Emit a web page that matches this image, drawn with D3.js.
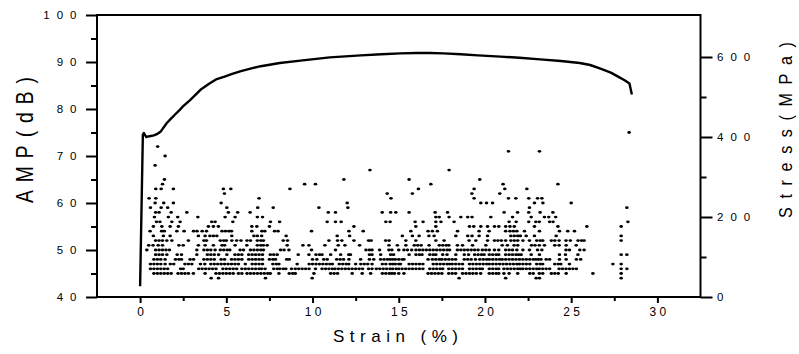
<!DOCTYPE html>
<html>
<head>
<meta charset="utf-8">
<script src="https://cdn.jsdelivr.net/npm/d3@7"></script>
<style>
  html, body { margin: 0; padding: 0; background: #fff; }
  svg { display: block; }
  text { font-family: "Liberation Sans", Arial, sans-serif; fill: #000; }
</style>
</head>
<body>
<svg id="chart" width="799" height="354"></svg>
<script>
// Axis ticks
const strainTicks = [0, 5, 10, 15, 20, 25, 30];
const strainMinor = [2.5, 7.5, 12.5, 17.5, 22.5, 27.5];
const ampTicks = [40, 50, 60, 70, 80, 90, 100];
const ampMinor = [45, 55, 65, 75, 85, 95];
const stressTicks = [0, 200, 400, 600];
const stressMinor = [100, 300, 500];

// Stress-strain curve (strain %, stress MPa)
const curveStrain = [0.0, 0.16, 0.22, 0.35, 0.55, 0.8, 0.97, 1.2, 1.55, 1.75, 2.0, 2.3, 2.5, 2.9, 3.5, 4.0, 4.4, 4.9, 5.3, 5.8, 6.4, 7.0, 8.1, 9.3, 11.0, 12.8, 14.0, 15.1, 16.0, 16.8, 17.6, 18.6, 19.6, 20.9, 22.0, 23.2, 24.4, 25.5, 26.1, 26.7, 27.3, 27.8, 28.1, 28.38, 28.45, 28.52];
const curveStress = [27, 406, 410, 400, 402, 404, 407, 414, 435, 444, 455, 468, 477, 492, 518, 533, 544, 551, 557, 564, 571, 577, 585, 591, 599, 604, 607, 609, 610, 610, 609, 607, 604, 601, 598, 594, 590, 585, 580, 571, 561, 549, 542, 534, 520, 506];

// Acoustic emission hits: strain (%) of each hit, grouped by amplitude (dB)
const hits44 = [4.12, 4.55, 7.27, 9.98, 18.5, 21.2, 22.97, 23.16, 27.9];
const hits45 = [0.8, 1.0, 1.2, 1.4, 1.6, 1.8, 2.2, 2.4, 2.6, 2.8, 3.09, 3.77, 4.4, 4.6, 4.8, 5.0, 5.2, 5.4, 5.7, 5.9, 6.2, 6.4, 6.6, 6.8, 7.0, 7.2, 7.4, 7.55, 8.05, 8.65, 8.85, 9.0, 10.08, 11.05, 11.25, 11.45, 12.3, 12.88, 13.37, 14.05, 14.25, 14.45, 14.6, 14.75, 15.0, 15.3, 16.7, 16.9, 17.1, 17.3, 17.5, 17.9, 18.1, 18.3, 18.7, 18.9, 19.1, 19.3, 19.5, 19.75, 20.25, 20.45, 20.65, 20.8, 21.1, 21.4, 21.9, 22.6, 22.8, 23.15, 23.35, 23.85, 24.05, 24.25, 24.71, 26.26, 27.9];
const hits46 = [0.6, 0.8, 1.0, 1.2, 1.4, 1.6, 2.35, 2.5, 3.4, 3.6, 3.8, 4.0, 4.2, 4.4, 4.8, 5.0, 5.2, 5.4, 5.6, 5.9, 6.1, 6.3, 6.5, 6.7, 6.9, 7.05, 7.25, 7.75, 7.95, 8.1, 8.3, 8.45, 8.78, 9.0, 9.2, 9.4, 9.6, 9.8, 10.17, 10.55, 10.75, 10.95, 11.15, 11.3, 11.5, 11.7, 11.9, 12.1, 12.3, 12.5, 12.7, 12.9, 13.25, 13.45, 13.7, 13.9, 14.1, 14.3, 14.5, 14.65, 14.85, 15.0, 15.2, 15.4, 15.6, 15.8, 16.0, 16.2, 16.4, 16.8, 17.0, 17.2, 17.4, 17.55, 17.9, 18.1, 18.3, 18.5, 18.7, 19.1, 19.3, 19.5, 19.7, 19.85, 20.25, 20.45, 20.65, 20.8, 21.1, 21.3, 21.5, 21.7, 21.9, 22.05, 22.2, 22.4, 22.6, 22.8, 23.0, 23.15, 23.35, 23.55, 23.75, 24.3, 24.5, 24.7, 24.9, 25.1, 25.3, 27.9, 28.23];
const hits47 = [0.6, 0.8, 1.0, 1.2, 1.45, 1.75, 1.95, 2.6, 2.8, 3.0, 3.5, 3.75, 4.1, 4.3, 4.5, 4.7, 4.9, 5.1, 5.3, 5.5, 5.7, 6.1, 6.5, 6.7, 6.9, 7.1, 7.7, 7.9, 8.05, 9.11, 9.8, 10.0, 10.2, 10.4, 10.6, 10.8, 11.0, 11.15, 11.55, 11.75, 11.95, 12.1, 12.5, 12.8, 13.0, 13.2, 13.45, 14.05, 14.25, 14.5, 14.65, 14.8, 15.0, 15.1, 15.6, 15.8, 16.0, 16.2, 16.4, 17.0, 17.2, 17.4, 17.6, 17.8, 17.95, 18.1, 18.3, 18.5, 18.7, 19.1, 19.3, 19.5, 19.7, 19.9, 20.1, 20.25, 20.45, 20.65, 20.85, 21.05, 21.25, 21.45, 21.65, 21.85, 22.0, 22.2, 22.4, 22.6, 23.0, 23.2, 23.35, 24.05, 24.25, 24.4, 24.9, 27.42, 27.9];
const hits48 = [0.8, 1.0, 1.2, 1.45, 2.05, 2.25, 2.4, 2.9, 3.1, 3.7, 3.9, 4.1, 4.3, 4.7, 4.9, 5.3, 5.5, 5.7, 5.9, 6.3, 6.5, 6.7, 6.9, 7.1, 7.5, 7.7, 7.85, 8.5, 8.65, 10.0, 10.25, 10.65, 10.85, 11.4, 11.6, 11.8, 12.11, 12.79, 13.3, 13.55, 13.95, 14.15, 14.35, 14.5, 14.65, 14.8, 15.0, 15.2, 15.3, 16.7, 16.95, 17.15, 17.35, 17.5, 17.7, 17.9, 18.1, 18.3, 18.8, 19.0, 19.2, 19.45, 19.7, 19.9, 20.1, 20.25, 20.45, 20.65, 20.85, 21.0, 21.2, 21.4, 21.6, 21.8, 22.0, 22.2, 22.4, 22.6, 22.8, 22.95, 23.1, 23.25, 23.55, 23.75, 24.32, 24.71, 25.3, 25.55];
const hits49 = [0.9, 1.1, 1.3, 1.55, 2.15, 2.4, 3.29, 3.9, 4.1, 4.3, 4.55, 5.03, 5.5, 5.7, 5.9, 6.3, 6.5, 6.7, 6.9, 7.1, 7.55, 7.75, 7.95, 9.17, 9.79, 10.2, 10.4, 10.55, 11.05, 11.63, 12.1, 12.2, 13.3, 13.45, 13.95, 14.53, 14.7, 15.6, 16.0, 16.2, 16.35, 16.8, 17.0, 17.15, 17.55, 17.8, 18.31, 18.8, 19.05, 19.4, 19.6, 19.8, 19.95, 20.25, 20.45, 20.65, 20.8, 21.2, 21.4, 21.6, 21.8, 21.95, 22.1, 22.68, 23.16, 24.32, 24.67, 25.39, 27.9, 28.23];
const hits50 = [0.39, 0.9, 1.1, 1.3, 1.5, 1.7, 3.29, 3.7, 3.9, 4.1, 4.35, 4.65, 4.85, 5.05, 5.2, 5.8, 6.0, 6.4, 6.6, 6.8, 7.0, 7.15, 8.15, 8.35, 8.63, 9.94, 11.33, 13.1, 13.3, 13.45, 13.89, 14.43, 14.6, 15.0, 15.3, 15.5, 15.75, 16.0, 16.2, 16.4, 16.6, 16.8, 17.0, 17.2, 17.4, 17.6, 17.8, 17.95, 18.4, 18.6, 18.8, 19.0, 19.2, 19.4, 19.6, 19.85, 20.05, 20.25, 20.55, 20.8, 21.2, 21.4, 21.6, 21.85, 22.2, 22.58, 23.05, 23.3, 24.7, 24.9, 25.5, 25.75];
const hits51 = [0.5, 0.75, 1.05, 1.3, 2.25, 2.5, 3.38, 3.77, 4.25, 4.75, 4.9, 5.51, 6.19, 6.8, 7.0, 7.15, 7.37, 8.53, 9.44, 9.79, 10.72, 11.49, 11.88, 12.73, 14.43, 14.92, 15.41, 15.9, 16.1, 16.3, 16.76, 17.35, 17.55, 17.75, 17.9, 18.4, 18.7, 19.28, 20.05, 21.0, 21.3, 21.69, 21.9, 22.7, 22.9, 23.15, 23.45, 24.05, 24.3, 24.71, 25.29];
const hits52 = [0.9, 1.1, 1.3, 1.55, 1.84, 2.8, 3.7, 3.85, 4.65, 4.85, 5.0, 5.32, 5.6, 5.85, 6.2, 6.4, 6.8, 7.0, 7.15, 8.3, 8.55, 10.95, 11.45, 11.7, 12.4, 13.25, 13.4, 14.24, 14.44, 15.41, 15.99, 17.15, 17.63, 19.08, 19.47, 20.15, 20.55, 20.75, 20.95, 21.2, 21.5, 21.7, 21.9, 22.2, 22.58, 23.0, 23.2, 23.35, 23.85, 24.05, 24.3, 24.7, 24.95, 25.4, 25.6, 25.75, 27.9];
const hits53 = [0.77, 1.35, 1.74, 3.38, 3.77, 4.05, 4.25, 4.45, 5.32, 6.6, 6.8, 7.05, 8.47, 11.43, 12.15, 15.21, 15.79, 16.18, 16.75, 17.05, 18.31, 19.0, 19.25, 19.66, 20.15, 21.5, 21.7, 21.9, 22.05, 22.39, 22.87, 24.13, 27.9];
const hits54 = [0.58, 1.25, 1.4, 2.13, 2.55, 3.1, 3.3, 3.6, 3.85, 4.75, 4.95, 5.15, 5.3, 6.48, 7.06, 7.23, 7.8, 8.0, 9.94, 12.11, 12.94, 15.7, 16.7, 16.95, 17.24, 18.41, 19.66, 20.24, 21.2, 21.45, 21.65, 21.85, 22.29, 23.16, 24.32, 24.8, 25.19];
const hits55 = [0.77, 1.26, 1.74, 2.22, 3.96, 4.25, 4.54, 6.48, 6.77, 7.5, 12.4, 15.99, 17.15, 19.1, 19.35, 19.76, 20.15, 20.55, 20.8, 21.2, 21.45, 21.7, 22.87, 24.23, 25.91, 27.9];
const hits56 = [0.95, 1.15, 1.84, 2.32, 4.15, 4.35, 5.38, 7.56, 8.09, 10.85, 11.33, 11.66, 14.25, 14.5, 15.95, 16.41, 17.15, 17.45, 18.21, 21.4, 21.81, 22.54, 22.95, 23.15, 23.75, 23.95, 28.29];
const hits57 = [0.83, 1.64, 2.18, 3.35, 4.93, 5.51, 6.8, 7.1, 17.15, 17.35, 17.92, 18.6, 19.0, 19.25, 20.34, 21.6, 22.68, 23.45, 23.7, 24.1];
const hits58 = [0.9, 1.1, 1.8, 2.71, 5.12, 5.66, 6.38, 10.91, 11.33, 14.04, 14.53, 14.83, 15.6, 17.11, 17.83, 21.11, 21.89, 22.54, 23.2, 23.94];
const hits59 = [0.6, 1.22, 1.6, 5.03, 6.82, 7.72, 10.37, 12.05, 22.58, 28.23];
const hits60 = [0.87, 1.37, 1.93, 4.7, 12.01, 19.76, 20.09, 20.44, 22.87, 23.36, 25.0];
const hits61 = [0.52, 0.91, 6.9, 14.55, 19.37, 21.36, 21.79, 22.54, 23.05, 23.3];
const hits62 = [4.89, 14.33, 15.79, 19.24, 20.86];
const hits63 = [0.91, 1.22, 1.93, 4.83, 5.26, 8.69, 16.14, 19.37, 21.15, 22.43];
const hits64 = [1.3, 9.54, 10.17, 16.86, 21.05, 24.23];
const hits65 = [1.41, 11.82, 15.6, 19.7];
const hits67 = [13.33, 17.92];
const hits68 = [0.87];
const hits70 = [1.45];
const hits71 = [21.36, 23.16];
const hits72 = [1.02];
const hits75 = [28.36];

const hitRows = [
  [44, hits44], [45, hits45], [46, hits46], [47, hits47], [48, hits48], [49, hits49],
  [50, hits50], [51, hits51], [52, hits52], [53, hits53], [54, hits54], [55, hits55],
  [56, hits56], [57, hits57], [58, hits58], [59, hits59], [60, hits60], [61, hits61],
  [62, hits62], [63, hits63], [64, hits64], [65, hits65], [67, hits67], [68, hits68],
  [70, hits70], [71, hits71], [72, hits72], [75, hits75]
];
const hitPoints = hitRows.flatMap(([amp, list]) => list.map(s => ({ strain: s, amp })));
const curve = curveStrain.map((s, i) => ({ strain: s, stress: curveStress[i] }));

// Layout of the plot frame
const frameL = 97, frameR = 700.5, frameT = 15, frameB = 297;
const svg = d3.select("#chart");

const x = d3.scaleLinear().domain([-2.5, 32.5]).range([frameL, frameR]);
const yAmp = d3.scaleLinear().domain([40, 100]).range([frameB, frameT]);
const yStress = d3.scaleLinear().domain([0, 705]).range([frameB, frameT]);

function styleTicks(g) {
  g.select(".domain").remove();
  g.selectAll(".tick line").attr("stroke", "#000").attr("stroke-width", 2);
}

// Bottom axis
svg.append("g").attr("transform", `translate(0,${frameB})`)
  .call(d3.axisBottom(x).tickValues(strainMinor).tickSize(4).tickFormat(""))
  .call(styleTicks);
const xAx = svg.append("g").attr("transform", `translate(0,${frameB})`)
  .call(d3.axisBottom(x).tickValues(strainTicks).tickSize(6).tickPadding(4).tickFormat(d3.format("d")))
  .call(styleTicks);
xAx.attr("font-family", null).attr("font-size", null);
xAx.selectAll(".tick text")
  .attr("font-size", 12).attr("letter-spacing", 3.3).attr("dx", 1.65);

// Left axis
svg.append("g").attr("transform", `translate(${frameL},0)`)
  .call(d3.axisLeft(yAmp).tickValues(ampMinor).tickSize(6).tickFormat(""))
  .call(styleTicks);
const yAx = svg.append("g").attr("transform", `translate(${frameL},0)`)
  .call(d3.axisLeft(yAmp).tickValues(ampTicks).tickSize(11).tickPadding(2.5).tickFormat(d3.format("d")))
  .call(styleTicks);
yAx.attr("font-family", null).attr("font-size", null);
yAx.selectAll(".tick text")
  .attr("font-size", 11.5).attr("letter-spacing", 7);

// Right axis
svg.append("g").attr("transform", `translate(${frameR},0)`)
  .call(d3.axisRight(yStress).tickValues(stressMinor).tickSize(6).tickFormat(""))
  .call(styleTicks);
const sAx = svg.append("g").attr("transform", `translate(${frameR},0)`)
  .call(d3.axisRight(yStress).tickValues(stressTicks).tickSize(12).tickPadding(4.5).tickFormat(d3.format("d")))
  .call(styleTicks);
sAx.attr("font-family", null).attr("font-size", null);
sAx.selectAll(".tick text")
  .attr("font-size", 11.5).attr("letter-spacing", 7);

// Plot frame
svg.append("rect")
  .attr("x", frameL).attr("y", frameT)
  .attr("width", frameR - frameL).attr("height", frameB - frameT)
  .attr("fill", "none").attr("stroke", "#000").attr("stroke-width", 2);

// AE hits
svg.append("g").selectAll("ellipse").data(hitPoints).join("ellipse")
  .attr("cx", d => x(d.strain))
  .attr("cy", d => yAmp(d.amp))
  .attr("rx", 1.8).attr("ry", 1.4)
  .attr("fill", "#000");

// Stress-strain curve
svg.append("path")
  .datum(curve)
  .attr("fill", "none").attr("stroke", "#000").attr("stroke-width", 2.4)
  .attr("stroke-linejoin", "round")
  .attr("d", d3.line().x(d => x(d.strain)).y(d => yStress(d.stress)));

// Axis titles
svg.append("text")
  .attr("x", 395.5).attr("y", 342)
  .attr("text-anchor", "middle")
  .attr("font-size", 17)
  .attr("textLength", 125).attr("lengthAdjust", "spacing")
  .text("Strain (%)");

svg.append("text")
  .attr("transform", "translate(33,140) rotate(-90) scale(0.8,1)")
  .attr("text-anchor", "middle")
  .attr("font-size", 24)
  .attr("textLength", 126 / 0.8).attr("lengthAdjust", "spacing")
  .text("AMP(dB)");

svg.append("text")
  .attr("transform", "translate(792,130) rotate(-90) scale(0.85,1)")
  .attr("text-anchor", "middle")
  .attr("font-size", 19)
  .attr("textLength", 176 / 0.85).attr("lengthAdjust", "spacing")
  .text("Stress(MPa)");
</script>
</body>
</html>
